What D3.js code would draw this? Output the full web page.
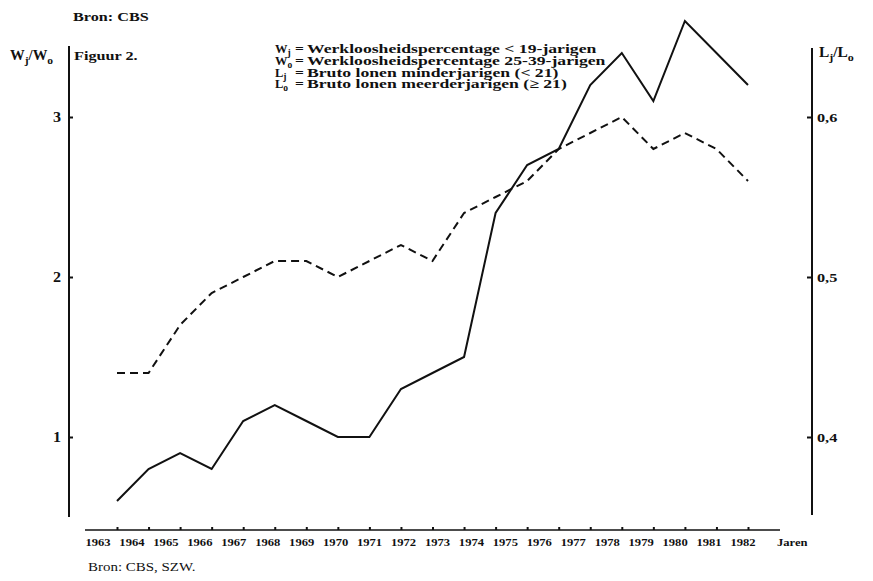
<!DOCTYPE html>
<html>
<head>
<meta charset="utf-8">
<script src="https://d3js.org/d3.v7.min.js"></script>
<style>
  body { margin: 0; background: #fff; }
  svg text { font-family: "Liberation Serif", "Times New Roman", serif; font-weight: bold; fill: #111; }
</style>
</head>
<body>
<div id="chart"></div>
<script>
// year labels under the x axis
var years = [1963, 1964, 1965, 1966, 1967, 1968, 1969, 1970, 1971, 1972,
             1973, 1974, 1975, 1976, 1977, 1978, 1979, 1980, 1981, 1982];

// Wj/Wo (solid line, left axis)
var ratioW = [0.6, 0.8, 0.9, 0.8, 1.1, 1.2, 1.1, 1.0, 1.0, 1.3, 1.4,
              1.5, 2.4, 2.7, 2.8, 3.2, 3.4, 3.1, 3.6, 3.4, 3.2];

// Lj/Lo (dashed line, right axis)
var ratioL = [0.44, 0.44, 0.47, 0.49, 0.50, 0.51, 0.51, 0.50, 0.51, 0.52, 0.51,
              0.54, 0.55, 0.56, 0.58, 0.59, 0.60, 0.58, 0.59, 0.58, 0.56];

var leftTicks = [1, 2, 3];
var rightTicks = [0.4, 0.5, 0.6];

var width = 873, height = 581;

var svg = d3.select("#chart")
  .append("svg")
    .attr("width", width)
    .attr("height", height);

// the printed type is wide and short, so stretch it sideways
function wide(px, py, sx) {
  return "translate(" + px + "," + py + ") scale(" + sx + ",1)";
}

// scales
var x = d3.scalePoint()
  .domain(d3.range(ratioW.length))
  .range([117, 748]);

var xLabel = d3.scalePoint()
  .domain(years)
  .range([98, 743]);

var yLeft = d3.scaleLinear().domain([1, 3]).range([437, 117]);
var yRight = d3.scaleLinear().domain([0.4, 0.6]).range([437, 117]);

// left axis
svg.append("line")
  .attr("x1", 69).attr("x2", 69).attr("y1", 46).attr("y2", 517)
  .attr("stroke", "#111").attr("stroke-width", 2);

var gl = svg.append("g")
  .attr("transform", "translate(69,0)")
  .call(d3.axisLeft(yLeft).tickValues(leftTicks).tickSize(-4).tickSizeOuter(0).tickPadding(7)
        .tickFormat(d3.format("d")));
gl.select(".domain").remove();
gl.selectAll(".tick line").attr("stroke", "#111").attr("stroke-width", 2);
gl.selectAll(".tick text")
  .attr("transform", "scale(1.15,1)")
  .style("font-size", "14px").style("font-family", "Liberation Serif").style("font-weight", "bold");

// right axis
svg.append("line")
  .attr("x1", 812).attr("x2", 812).attr("y1", 48).attr("y2", 515)
  .attr("stroke", "#111").attr("stroke-width", 2);

var gr = svg.append("g")
  .attr("transform", "translate(812,0)")
  .call(d3.axisRight(yRight).tickValues(rightTicks).tickSize(-5).tickSizeOuter(0).tickPadding(4)
        .tickFormat(function(d){ return d.toFixed(1).replace(".", ","); }));
gr.select(".domain").remove();
gr.selectAll(".tick line").attr("stroke", "#111").attr("stroke-width", 2);
gr.selectAll(".tick text")
  .attr("transform", "scale(1.25,1)")
  .style("font-size", "13px")
  .style("font-family", "Liberation Serif").style("font-weight", "bold");

// x axis
svg.append("line")
  .attr("x1", 85).attr("x2", 780).attr("y1", 530).attr("y2", 530)
  .attr("stroke", "#111").attr("stroke-width", 1.5);

var gx = svg.append("g")
  .attr("transform", "translate(0,530)")
  .call(d3.axisBottom(x).tickSize(-3).tickSizeOuter(0).tickFormat(""));
gx.select(".domain").remove();
gx.selectAll(".tick line").attr("stroke", "#111").attr("stroke-width", 2);

svg.append("g").selectAll("text")
  .data(years)
  .enter()
  .append("text")
    .attr("transform", function(d){ return wide(xLabel(d), 546, 1.2); })
    .attr("text-anchor", "middle")
    .style("font-size", "10.5px")
    .text(function(d){ return d; });

svg.append("text")
  .attr("transform", wide(777, 546, 1.2))
  .style("font-size", "10.5px")
  .text("Jaren");

// lines
var lineW = d3.line()
  .x(function(d, i){ return x(i); })
  .y(function(d){ return yLeft(d); });

var lineL = d3.line()
  .x(function(d, i){ return x(i); })
  .y(function(d){ return yRight(d); });

svg.append("path")
  .datum(ratioL)
  .attr("d", lineL)
  .attr("fill", "none")
  .attr("stroke", "#111")
  .attr("stroke-width", 2)
  .attr("stroke-dasharray", "8,5");

svg.append("path")
  .datum(ratioW)
  .attr("d", lineW)
  .attr("fill", "none")
  .attr("stroke", "#111")
  .attr("stroke-width", 2)
  .attr("stroke-linejoin", "miter");

// titles and sources
svg.append("text")
  .attr("transform", wide(73, 21, 1.2))
  .style("font-size", "13.5px")
  .text("Bron: CBS");

svg.append("text")
  .attr("transform", wide(74, 60, 1.2))
  .style("font-size", "13.5px")
  .text("Figuur 2.");

svg.append("text")
  .attr("transform", wide(88, 571, 1.15))
  .style("font-size", "13px")
  .style("font-weight", "normal")
  .text("Bron: CBS, SZW.");

// axis titles with subscripts
function subLabel(sel, parts, size) {
  parts.forEach(function(p) {
    sel.append("tspan")
      .attr("dy", p.dy || 0)
      .style("font-size", p.sub ? (size - 3) + "px" : size + "px")
      .text(p.t);
  });
}

var tl = svg.append("text").attr("transform", wide(10, 60, 1.05));
subLabel(tl, [{t: "W"}, {t: "j", sub: true, dy: 4}, {t: "/W", dy: -4}, {t: "o", sub: true, dy: 4}], 14);

var tr = svg.append("text").attr("transform", wide(819, 57, 1.1));
subLabel(tr, [{t: "L"}, {t: "j", sub: true, dy: 4}, {t: "/L", dy: -4}, {t: "o", sub: true, dy: 4}], 14);

// legend
var legendSym = [["W", "j"], ["W", "o"], ["L", "j"], ["L", "o"]];
var legendText = ["Werkloosheidspercentage < 19-jarigen",
                  "Werkloosheidspercentage 25-39-jarigen",
                  "Bruto lonen minderjarigen (< 21)",
                  "Bruto lonen meerderjarigen (\u2265 21)"];
var legendY = [53, 65, 77, 88];

legendText.forEach(function(txt, i) {
  var s = svg.append("text").attr("transform", wide(275, legendY[i], 1));
  subLabel(s, [{t: legendSym[i][0]}, {t: legendSym[i][1], sub: true, dy: 3}], 12.5);
  svg.append("text").attr("transform", wide(295, legendY[i], 1.2)).style("font-size", "13px").text("=");
  svg.append("text").attr("transform", wide(307, legendY[i], 1.36))
    .style("font-size", "13px")
    .text(txt);
});
</script>
</body>
</html>
